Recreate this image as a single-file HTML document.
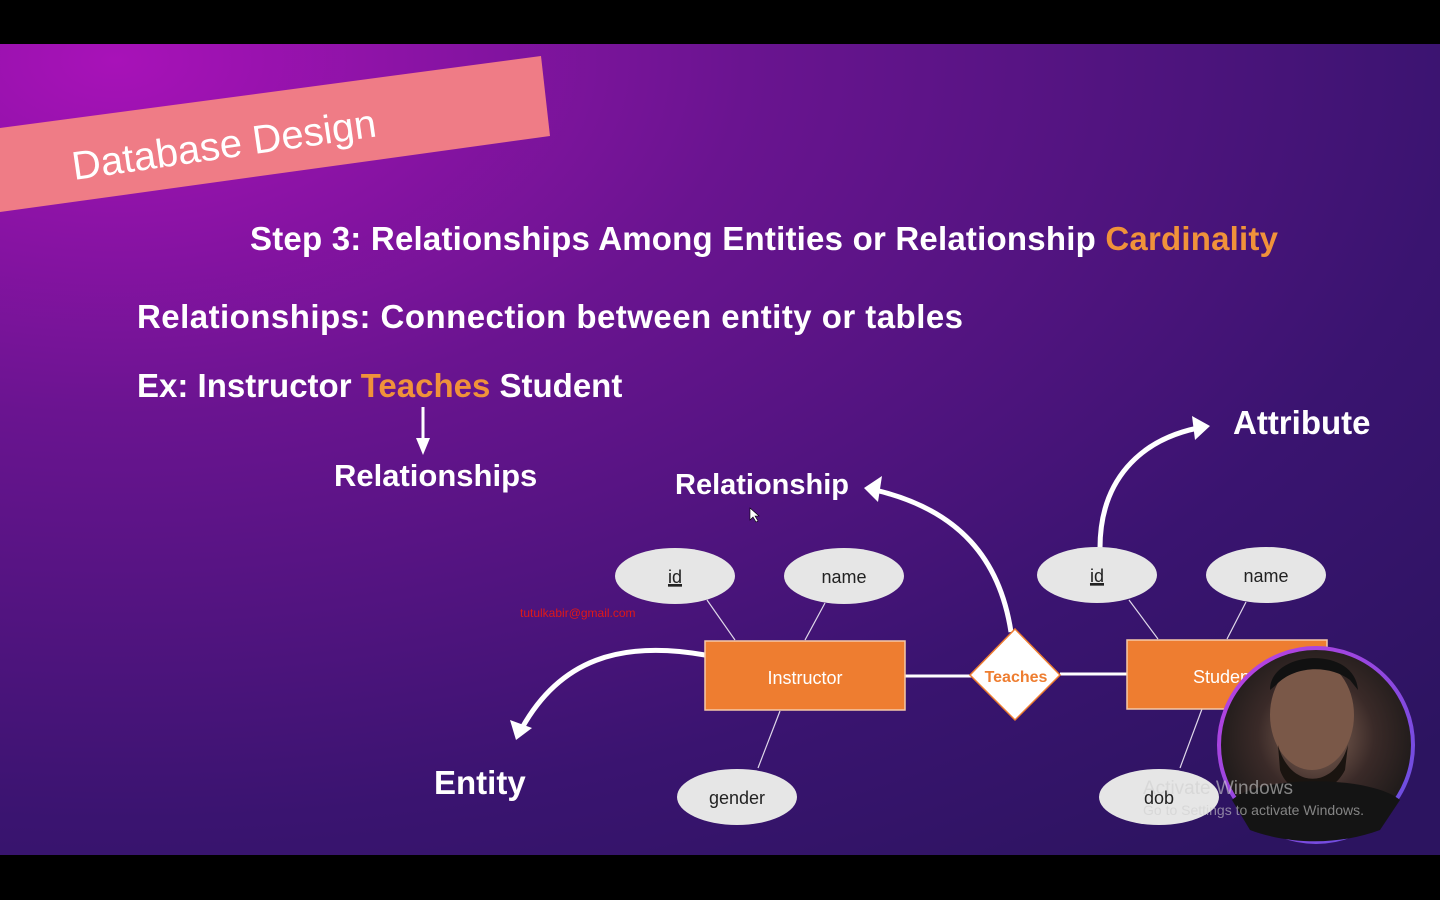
<!DOCTYPE html>
<html><head><meta charset="utf-8"><style>
html,body{margin:0;padding:0;width:1440px;height:900px;overflow:hidden;background:#000}
svg{display:block}
text{font-family:"Liberation Sans",sans-serif}
</style></head><body>
<svg width="1440" height="900" viewBox="0 0 1440 900" xmlns="http://www.w3.org/2000/svg">
<defs>
<radialGradient id="bg" cx="0.08" cy="0.02" r="1.25">
<stop offset="0" stop-color="#a812b8"/>
<stop offset="0.35" stop-color="#6a1490"/>
<stop offset="0.75" stop-color="#3a1470"/>
<stop offset="1" stop-color="#2c1460"/>
</radialGradient>
<radialGradient id="face" cx="0.5" cy="0.45" r="0.6">
<stop offset="0" stop-color="#8a6a5a"/><stop offset="0.5" stop-color="#3a2a28"/><stop offset="1" stop-color="#151515"/>
</radialGradient>
<linearGradient id="ring" x1="0" y1="0" x2="1" y2="1">
<stop offset="0" stop-color="#c040e0"/><stop offset="1" stop-color="#6050e0"/>
</linearGradient>
</defs>
<rect x="0" y="0" width="1440" height="900" fill="#000"/>
<rect x="0" y="44" width="1440" height="811" fill="url(#bg)"/>
<polygon points="0,128 541,56 550,136 0,212" fill="#ef7c86"/>
<text x="0" y="0" transform="translate(74,180) rotate(-8.2)" font-size="40" fill="#fff">Database Design</text>
<text x="250" y="250" font-size="33" font-weight="bold" fill="#fff" textLength="1028" lengthAdjust="spacing">Step 3: Relationships Among Entities or Relationship <tspan fill="#f0923a">Cardinality</tspan></text>
<text x="137" y="328" font-size="33" font-weight="bold" fill="#fff" textLength="826" lengthAdjust="spacing">Relationships: Connection between entity or tables</text>
<text x="137" y="397" font-size="33" font-weight="bold" fill="#fff">Ex: Instructor <tspan fill="#f0923a">Teaches</tspan> Student</text>
<line x1="423" y1="407" x2="423" y2="440" stroke="#fff" stroke-width="3"/>
<polygon points="416,438 430,438 423,455" fill="#fff"/>
<text x="334" y="486" font-size="31" font-weight="bold" fill="#fff">Relationships</text>
<text x="675" y="494" font-size="29" font-weight="bold" fill="#fff">Relationship</text>
<text x="1233" y="434" font-size="33" font-weight="bold" fill="#fff">Attribute</text>
<text x="434" y="794" font-size="33" font-weight="bold" fill="#fff">Entity</text>
<path d="M1011,632 C1000,560 960,510 875,490" fill="none" stroke="#fff" stroke-width="5"/>
<polygon points="864,488 882,476 878,502" fill="#fff"/>
<path d="M1100,548 C1100,480 1140,440 1198,428" fill="none" stroke="#fff" stroke-width="5"/>
<polygon points="1210,426 1192,416 1195,440" fill="#fff"/>
<path d="M705,655 C620,640 560,660 522,728" fill="none" stroke="#fff" stroke-width="5"/>
<polygon points="516,740 510,720 532,728" fill="#fff"/>
<g stroke="#e0d8ea" stroke-width="1.2">
<line x1="707" y1="600" x2="735" y2="640"/>
<line x1="825" y1="603" x2="805" y2="640"/>
<line x1="780" y1="711" x2="758" y2="768"/>
<line x1="1129" y1="600" x2="1158" y2="639"/>
<line x1="1246" y1="602" x2="1227" y2="639"/>
<line x1="1202" y1="709" x2="1180" y2="768"/>
</g>
<line x1="905" y1="676" x2="972" y2="676" stroke="#fff" stroke-width="3"/>
<line x1="1060" y1="674" x2="1127" y2="674" stroke="#fff" stroke-width="3"/>
<rect x="705" y="641" width="200" height="69" fill="#ee7d30" stroke="#f5c9a8" stroke-width="1.5"/>
<text x="805" y="684" font-size="18" fill="#fff" text-anchor="middle">Instructor</text>
<rect x="1127" y="640" width="200" height="69" fill="#ee7d30" stroke="#f5c9a8" stroke-width="1.5"/>
<text x="1193" y="683" font-size="18" fill="#fff">Student</text>
<polygon points="1015,629 1060,675 1015,720 970,675" fill="#fff" stroke="#ee7d30" stroke-width="1.5"/>
<text x="1016" y="682" font-size="16" font-weight="bold" fill="#ee7d30" text-anchor="middle">Teaches</text>
<g fill="#e6e6e6">
<ellipse cx="675" cy="576" rx="60" ry="28"/>
<ellipse cx="844" cy="576" rx="60" ry="28"/>
<ellipse cx="737" cy="797" rx="60" ry="28"/>
<ellipse cx="1097" cy="575" rx="60" ry="28"/>
<ellipse cx="1266" cy="575" rx="60" ry="28"/>
<ellipse cx="1159" cy="797" rx="60" ry="28"/>
</g>
<g font-size="18" fill="#222" text-anchor="middle">
<text x="675" y="583" text-decoration="underline">id</text>
<text x="844" y="583">name</text>
<text x="737" y="804">gender</text>
<text x="1097" y="582" text-decoration="underline">id</text>
<text x="1266" y="582">name</text>
<text x="1159" y="804">dob</text>
</g>
<line x1="668" y1="586" x2="682" y2="586" stroke="#222" stroke-width="1.3"/>
<line x1="1090" y1="585" x2="1104" y2="585" stroke="#222" stroke-width="1.3"/>
<text x="520" y="617" font-size="12" fill="#e01818">tutulkabir@gmail.com</text>
<ellipse cx="1316" cy="745" rx="97" ry="97" fill="url(#face)" stroke="url(#ring)" stroke-width="4"/>
<ellipse cx="1312" cy="715" rx="42" ry="55" fill="#7a5848"/>
<path d="M1270,690 C1270,650 1355,645 1358,690 L1350,680 C1330,665 1295,665 1276,685 Z" fill="#111"/>
<path d="M1278,745 C1290,790 1335,790 1348,745 L1345,770 C1330,800 1290,800 1280,770 Z" fill="#1a1410"/>
<path d="M1232,800 C1260,775 1370,775 1400,800 L1380,830 C1340,845 1290,845 1250,830 Z" fill="#141414"/>
<text x="1143" y="794" font-size="19" fill="#cfcfcf" fill-opacity="0.6">Activate Windows</text>
<text x="1143" y="815" font-size="14" fill="#cfcfcf" fill-opacity="0.6">Go to Settings to activate Windows.</text>
<path d="M750,508 L750,520 L753,517 L756,522 L758,521 L755,516 L759,516 Z" fill="#fff" stroke="#000" stroke-width="0.6"/>
</svg>
</body></html>
